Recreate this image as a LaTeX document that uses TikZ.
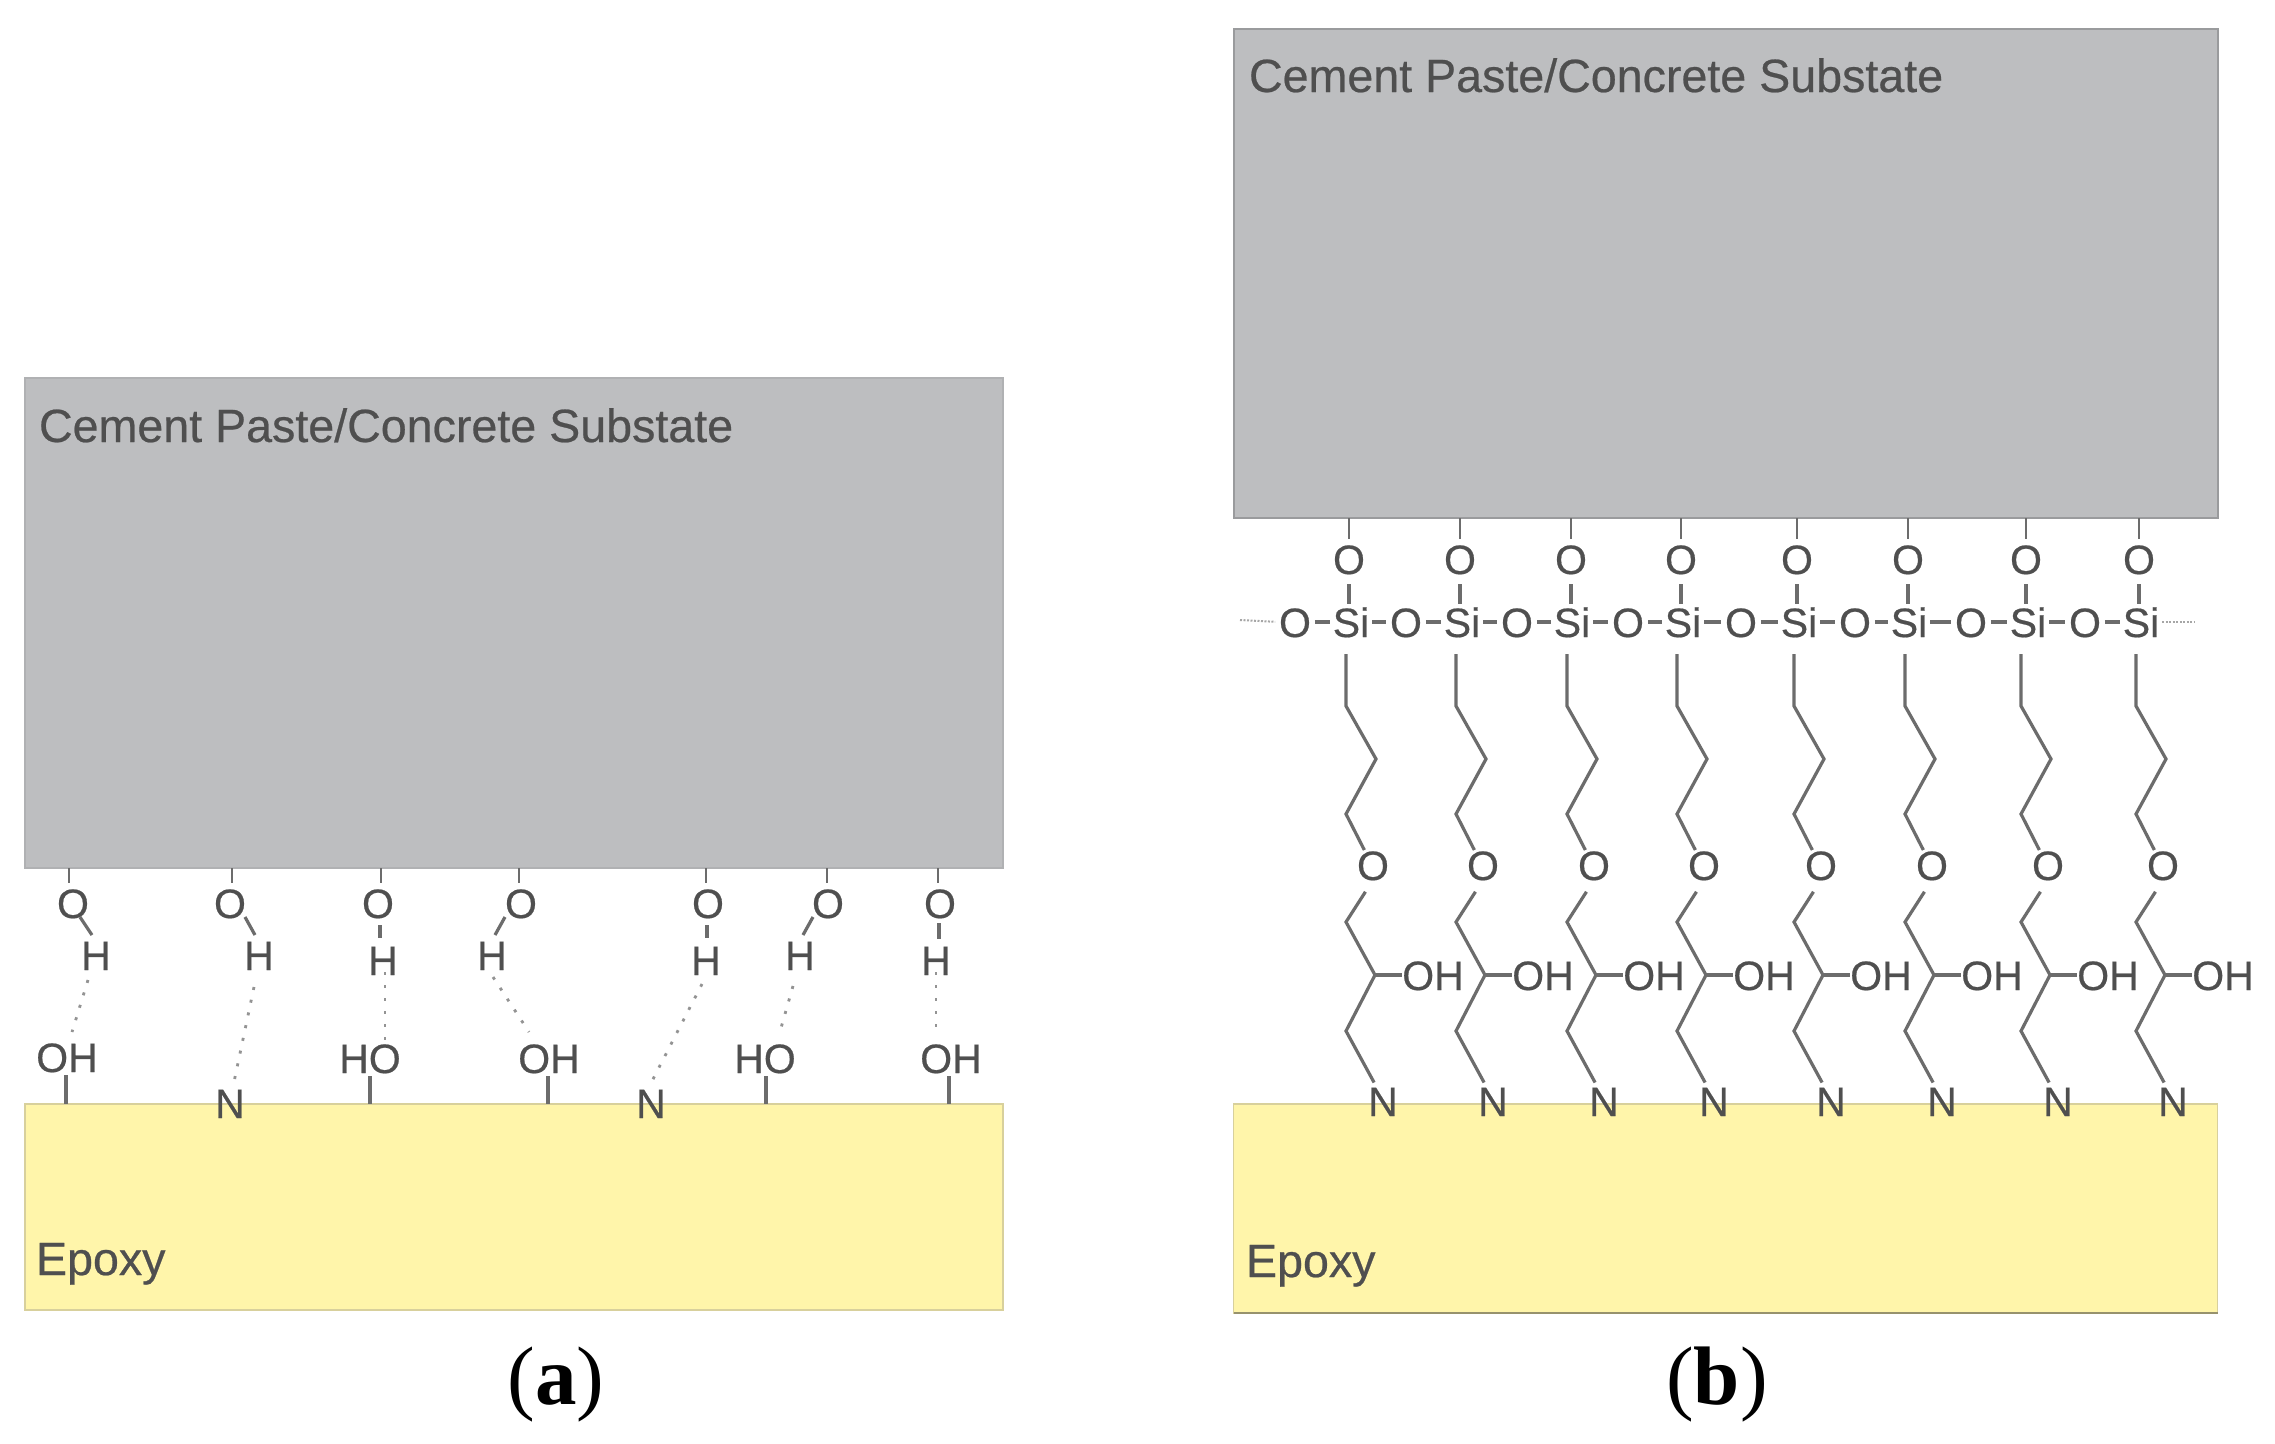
\documentclass[tikz,border=0pt]{standalone}
\usepackage{fontspec}
\setmainfont{Liberation Sans}
\newfontfamily\capfont{Liberation Serif}
\newfontfamily\heavyfont{Liberation Sans}[RawFeature={embolden=0.5}]
\definecolor{txtgrey}{HTML}{4F4F4F}
\definecolor{bondgrey}{HTML}{6C6C6C}
\definecolor{cementfill}{HTML}{BDBEC0}
\definecolor{cementedge}{HTML}{9A9B9D}
\definecolor{cementsoft}{HTML}{B0B1B3}
\definecolor{epoxyfill}{HTML}{FFF5AA}
\definecolor{epoxyedge}{HTML}{D8D09C}
\tikzset{
  atom/.style={inner sep=0pt,outer sep=0pt,text=txtgrey,text height=30pt,text depth=0pt,font=\heavyfont\fontsize{41}{41}\selectfont},
  label/.style={inner sep=0pt,outer sep=0pt,text=txtgrey,anchor=base west,font=\heavyfont\fontsize{46.6}{47}\selectfont},
  caplabel/.style={inner sep=0pt,outer sep=0pt,text=black,anchor=base,font=\capfont\fontsize{83}{84}\selectfont},
  bond/.style={draw=bondgrey,line width=3.2pt,line join=miter},
  hbond/.style={draw=gray!85,line width=2.8pt,dash pattern=on 3pt off 10pt},
  faint/.style={draw=gray!70,line width=2pt,dash pattern=on 2pt off 1.5pt},
  cementbox/.style={fill=cementfill,draw=cementedge,line width=2pt,inner sep=0pt,outer sep=0pt},
  epoxybox/.style={fill=epoxyfill,draw=epoxyedge,line width=1.5pt,inner sep=0pt,outer sep=0pt},
}
\begin{document}
\begin{tikzpicture}[x=1pt,y=-1pt]
\useasboundingbox (0,0) rectangle (2275,1443);
\fill[white] (0,0) rectangle (2275,1443);
% ---------- boxes ----------
\node[cementbox,draw=cementsoft,minimum width=978pt,minimum height=490pt] (cementA) at (514,623) {};
\node[epoxybox,minimum width=978pt,minimum height=206pt] (epoxyA) at (514,1207) {};
\node[cementbox,minimum width=984pt,minimum height=489pt] (cementB) at (1725.5,273.5) {};
\node[epoxybox,minimum width=984pt,minimum height=209pt] (epoxyB) at (1725.5,1208.5) {};
\draw[draw=epoxyedge!70!black,line width=2.5pt] (epoxyB.south west) -- (epoxyB.south east);
\node[label] (cementAt) at (39,442) {Cement Paste/Concrete Substate};
\node[label] (epoxyAt) at (36,1275) {Epoxy};
\node[label] (cementBt) at (1249,92) {Cement Paste/Concrete Substate};
\node[label] (epoxyBt) at (1246,1277) {Epoxy};
\node[caplabel] (capA) at (556,1404) {(\textbf{a})};
\node[caplabel] (capB) at (1717,1404) {(\textbf{b})};
% ---------- panel a atoms ----------
\foreach \i/\ox/\hx/\hy in {1/73/96/955,2/230/259/955,3/378/383/960,4/521/492/955,5/708/706/960,6/828/800/955,7/940/936/960}{
  \node[atom] (aO\i) at (\ox,903) {O};
  \node[atom] (aH\i) at (\hx,\hy) {H};
}
\node[atom] (aL1) at (67,1057) {OH};
\node[atom] (aL2) at (230,1103) {N};
\node[atom] (aL3) at (370,1058) {HO};
\node[atom] (aL4) at (549,1058) {OH};
\node[atom] (aL5) at (651,1103) {N};
\node[atom] (aL6) at (765,1058) {HO};
\node[atom] (aL7) at (951,1058) {OH};
% stubs O to cement
\foreach \i/\sx in {1/69,2/232,3/381,4/519,5/706,6/827,7/938}{
  \coordinate (aS\i) at (\sx,868);
  \draw[bond,line width=2.8pt,shorten >=5pt] (aS\i) -- (aO\i.north -| aS\i);
}
% O-H bonds
\foreach \i/\ax/\ay/\bx/\by in {1/7/14/-4/-20,2/15/14/-4/-20,3/2/22/-3/-22,4/-16/14/3/-20,5/-1/22/1/-22,6/-15/14/3/-20,7/-1/20/3/-21}{
  \draw[bond] ([shift={(\ax,\ay)}]aO\i.center) -- ([shift={(\bx,\by)}]aH\i.center);
}
% hydrogen bonds
\foreach \i/\ax/\ay/\bx/\by in {1/-8/25/5/-25,2/-5/32/4/-21,3/2/12/15/-18,4/1/22/-20/-26,5/-4/24/0/-20,6/-7/31/14/-23,7/0/12/-15/-21}{
  \draw[hbond] ([shift={(\ax,\ay)}]aH\i.center) -- ([shift={(\bx,\by)}]aL\i.center);
}
% stubs to epoxy
\foreach \i/\sx in {1/66,3/370,4/548,6/766,7/949}{
  \coordinate (aB\i) at (\sx,1104);
  \draw[bond,shorten <=3pt] (aL\i.south -| aB\i) -- (aB\i);
}
% ---------- panel b ----------
\foreach \i/\ox/\sx/\bx in {1/1349/1351/1346,2/1460/1462/1456,3/1571/1572/1567,4/1681/1683/1677,5/1797/1799/1794,6/1908/1909/1905,7/2026/2028/2021,8/2139/2141/2136}{
  \node[atom] (bT\i) at (\ox,559) {O};
  \node[atom] (bSi\i) at (\sx,622) {Si};
  \coordinate (bS\i) at (\ox,518);
  \draw[bond,line width=2.8pt,shorten >=5pt] (bS\i) -- (bT\i.north);
  \draw[bond,shorten <=10pt,shorten >=3pt] (bT\i.south) -- (bT\i.south |- bSi\i.north);
  % chain
  \coordinate (c1\i) at (\bx,706);
  \coordinate (c2\i) at (\bx+30,759);
  \coordinate (c3\i) at (\bx,814);
  \node[atom] (bO\i) at (\bx+27,865) {O};
  \coordinate (c4\i) at (\bx,922);
  \coordinate (c5\i) at (\bx+29,975);
  \coordinate (c6\i) at (\bx,1031);
  \node[atom] (bN\i) at (\bx+37,1101) {N};
  \node[atom] (bOH\i) at (\bx+87,975) {OH};
  \draw[bond,shorten <=17pt] (bSi\i.south -| c1\i) -- (c1\i) -- (c2\i) -- (c3\i) -- (bO\i.120);
  \draw[bond,shorten <=14pt,shorten >=4pt] (bO\i.south) -- (c4\i) -- (c5\i) -- (c6\i) -- (bN\i.115);
  \draw[bond] (c5\i) -- (bOH\i.west);
}
% siloxane row
\foreach \j/\x in {0/1295,1/1406,2/1517,3/1628,4/1741,5/1855,6/1971,7/2085}{
  \node[atom] (bR\j) at (\x,622) {O};
}
\foreach \j in {0,...,7}{
  \pgfmathtruncatemacro{\n}{\j+1}
  \draw[bond,shorten <=4pt,shorten >=3pt] (bR\j.east) -- (bSi\n.west);
}
\foreach \i/\j in {1/1,2/2,3/3,4/4,5/5,6/6,7/7}{
  \draw[bond,shorten <=3pt,shorten >=4pt] (bSi\i.east) -- (bR\j.west);
}
\coordinate (fL) at (1240,620);
\coordinate (fR) at (2195,622);
\draw[faint,shorten >=4pt] (fL) -- (bR0.west);
\draw[faint,shorten <=3pt] (bSi8.east) -- (fR);
\end{tikzpicture}
\end{document}
